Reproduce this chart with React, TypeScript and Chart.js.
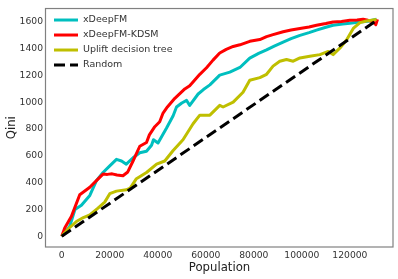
import React, { useEffect, useRef } from "react";
import { Chart, registerables } from "chart.js";

Chart.register(...registerables);

const X_TICKS = [0, 20000, 40000, 60000, 80000, 100000, 120000];
const Y_TICKS = [0, 200, 400, 600, 800, 1000, 1200, 1400, 1600];

const CYAN_X = [0, 3300, 5500, 8200, 11700, 14450, 17200, 20000, 22800, 24900, 26900, 29700, 32500, 35300, 37400, 38200, 40100, 43600, 46400, 47800, 50000, 52000, 53300, 56800, 59000, 61700, 65800, 70000, 74200, 78300, 82000, 85300, 88500, 92200, 95500, 99200, 103000, 106100, 110000, 113000, 117000, 120000, 124200, 127500, 131100];
const CYAN_Y = [0, 73, 200, 232, 305, 415, 476, 525, 574, 562, 538, 586, 623, 635, 680, 721, 696, 806, 900, 965, 995, 1014, 977, 1062, 1095, 1130, 1203, 1225, 1260, 1330, 1365, 1392, 1420, 1450, 1475, 1500, 1520, 1539, 1560, 1575, 1585, 1590, 1600, 1605, 1620];

const RED_X = [0, 1250, 4000, 7500, 11700, 15800, 17200, 19000, 21000, 23000, 25500, 27500, 29700, 32500, 35300, 36500, 38750, 40800, 42200, 44000, 47100, 51250, 53300, 57500, 60300, 63000, 65800, 68500, 71400, 74200, 78300, 82500, 85300, 88000, 92200, 95500, 99200, 103000, 106100, 110000, 113000, 116500, 120000, 123000, 125500, 127500, 129700, 130800, 131500];
const RED_Y = [0, 61, 147, 310, 366, 440, 464, 462, 466, 458, 452, 480, 562, 672, 700, 757, 818, 855, 920, 965, 1030, 1100, 1124, 1209, 1258, 1315, 1368, 1395, 1417, 1429, 1455, 1468, 1490, 1505, 1527, 1540, 1551, 1562, 1575, 1588, 1600, 1603, 1612, 1614, 1620, 1612, 1600, 1580, 1619];

const YEL_X = [0, 3000, 6100, 9000, 11700, 15100, 17900, 20000, 22800, 26900, 28500, 31100, 35300, 39500, 42900, 46400, 50500, 54700, 57500, 61700, 65800, 67200, 71400, 75500, 78300, 82500, 85300, 88000, 90800, 93600, 96400, 99200, 103300, 107500, 111000, 113000, 115800, 118600, 121400, 124200, 126900, 131100];
const YEL_Y = [0, 60, 110, 140, 159, 210, 255, 318, 337, 347, 360, 430, 476, 538, 562, 640, 720, 840, 904, 904, 977, 965, 1001, 1075, 1165, 1184, 1209, 1270, 1307, 1319, 1307, 1331, 1344, 1356, 1380, 1356, 1404, 1465, 1551, 1595, 1607, 1619];

const RAND_X = [0, 131400];
const RAND_Y = [0, 1615];

const LABELS = ["xDeepFM", "xDeepFM-KDSM", "Uplift decision tree", "Random"];
const COLORS = ["#00BFBF", "#FF0000", "#BFBF00", "#000000"];

const FONT = '"DejaVu Sans", sans-serif';

const pts = (xs: number[], ys: number[]) => xs.map((x, i) => ({ x, y: ys[i] }));

const framePlugin = {
  id: "frame",
  afterDraw(chart: any) {
    const { ctx, chartArea } = chart;
    ctx.save();
    ctx.strokeStyle = "#808080";
    ctx.lineWidth = 1.2;
    ctx.strokeRect(chartArea.left - 0.5, chartArea.top, chartArea.right - chartArea.left + 0.5, chartArea.bottom - chartArea.top);
    ctx.restore();
  },
};

const legendPlugin = {
  id: "insideLegend",
  afterDatasetsDraw(chart: any) {
    const { ctx, chartArea } = chart;
    const { left, top } = chartArea;
    ctx.save();
    chart.data.datasets.forEach((ds: any, i: number) => {
      const y = top + 11.5 + i * 15;
      ctx.beginPath();
      ctx.setLineDash(ds.borderDash || []);
      ctx.lineWidth = 3;
      ctx.strokeStyle = ds.borderColor;
      ctx.moveTo(left + 8, y);
      ctx.lineTo(left + 32, y);
      ctx.stroke();
      ctx.setLineDash([]);
      ctx.fillStyle = "#333333";
      ctx.font = `9.5px ${FONT}`;
      ctx.textBaseline = "middle";
      ctx.textAlign = "left";
      ctx.fillText(ds.label, left + 37, y);
    });
    ctx.restore();
  },
};

export default function App() {
  const ref = useRef<HTMLCanvasElement>(null);
  useEffect(() => {
    if (!ref.current) return;
    const series = [pts(CYAN_X, CYAN_Y), pts(RED_X, RED_Y), pts(YEL_X, YEL_Y), pts(RAND_X, RAND_Y)];
    const chart = new Chart(ref.current, {
      type: "line",
      data: {
        datasets: series.map((data, i) => ({
          label: LABELS[i],
          data,
          borderColor: COLORS[i],
          backgroundColor: COLORS[i],
          borderWidth: 3,
          pointRadius: 0,
          tension: 0,
          fill: false,
          borderJoinStyle: "round" as const,
          borderDash: i === 3 ? [11, 5] : [],
          order: 4 - i,
        })),
      },
      options: {
        animation: false,
        responsive: false,
        devicePixelRatio: 1,
        layout: { padding: { top: 5, right: 5, left: 0, bottom: 0 } },
        plugins: { legend: { display: false }, tooltip: { enabled: false } },
        scales: {
          x: {
            type: "linear",
            min: -6550,
            max: 137950,
            grid: { display: false, drawTicks: false },
            border: { display: false },
            afterBuildTicks: (s: any) => {
              s.ticks = X_TICKS.map((v) => ({ value: v }));
            },
            afterFit: (s: any) => {
              s.height = 32;
            },
            ticks: {
              padding: 3,
              color: "#333333",
              font: { family: FONT, size: 9.2 },
              maxRotation: 0,
              autoSkip: false,
              callback: (v: any) => String(v),
            },
            title: {
              display: true,
              text: "Population",
              color: "#222222",
              font: { family: FONT, size: 11.7, lineHeight: 1.2 },
              padding: { top: 0, bottom: 4 },
            },
          },
          y: {
            type: "linear",
            min: -80,
            max: 1700,
            grid: { display: false, drawTicks: false },
            border: { display: false },
            afterBuildTicks: (s: any) => {
              s.ticks = Y_TICKS.map((v) => ({ value: v }));
            },
            afterFit: (s: any) => {
              s.width = 46;
            },
            ticks: {
              padding: 3,
              color: "#333333",
              font: { family: FONT, size: 9.2 },
              autoSkip: false,
              callback: (v: any) => String(v),
            },
            title: {
              display: true,
              text: "Qini",
              color: "#222222",
              font: { family: FONT, size: 11.7, lineHeight: 1.2 },
              padding: { top: 5, bottom: 0 },
            },
          },
        },
      },
      plugins: [framePlugin, legendPlugin],
    });
    return () => chart.destroy();
  }, []);
  return (
    <div style={{ position: "fixed", left: 0, top: 0, width: 398, height: 279, background: "#fff" }}>
      <canvas ref={ref} width={398} height={279} style={{ width: 398, height: 279, display: "block" }} />
    </div>
  );
}
